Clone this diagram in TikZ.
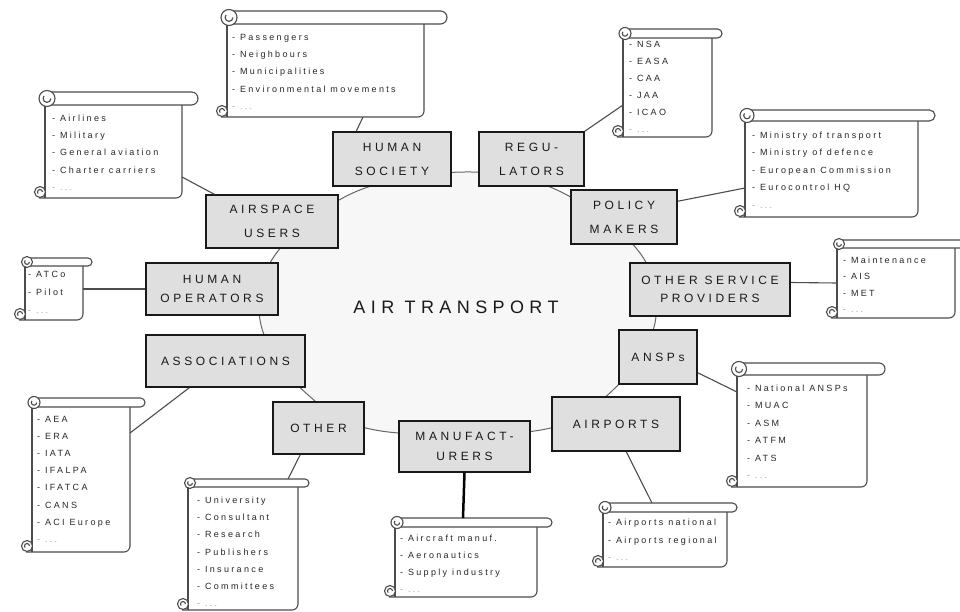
\documentclass[tikz,border=0pt]{standalone}
\usepackage{fontspec}
\setmainfont{Liberation Sans}
\newfontfamily\itemfont[LetterSpace=26]{Liberation Sans}
\newfontfamily\boxfont[LetterSpace=30]{Liberation Sans}
\usetikzlibrary{calc}

\tikzset{
 catbox/.style={draw=black!90, line width=1.5pt, fill=gray!25, inner sep=0pt, align=center, text=black!90, font={\boxfont\fontsize{12}{24}\selectfont}},
 scrollbody/.style={inner sep=0pt, outer sep=0pt},
 scrollline/.style={draw=black!70, line width=1.1pt},
 itemtext/.style={inner sep=0pt, text=black!85, font={\itemfont\fontsize{9}{10}\selectfont}},
 conn/.style={draw=black!70, line width=1.1pt},
 ring/.style={draw=black!60, line width=1pt, fill=black!3},
}

\newcommand\scrollbox[5]{%
 \node[scrollbody, anchor=north west, minimum width={(#4-#2)*1pt}, minimum height={(#5-#3)*1pt}] (#1) at (#2,#3) {};}

\newcommand\scrolldeco[3]{%
 \draw[scrollline] (#1.north west) -- (#1.south west);
 \draw[scrollline, rounded corners=6pt] ([xshift=-6pt]#1.south west) -- (#1.south east) -- (#1.north east);
 \draw[scrollline, fill=white, rounded corners=#2*0.5pt] ([xshift=-1pt]#1.north west) rectangle ([xshift=#3pt, yshift=#2pt]#1.north east);
 \draw[scrollline, fill=white] ([xshift=2pt, yshift=#2*0.5pt]#1.north west) circle [radius=#2*0.5pt+1.5pt];
 \draw[scrollline] ([xshift=2pt+#2*0.3pt, yshift=#2*0.5pt]#1.north west) arc [start angle=0, end angle=-220, radius=#2*0.3pt];
 \draw[scrollline, fill=white] ([xshift=-5pt, yshift=6pt]#1.south west) circle [radius=5.5pt];
 \draw[scrollline] ([xshift=-2.5pt, yshift=6pt]#1.south west) arc [start angle=0, end angle=220, radius=2.5pt];
}

\newcommand\scrollitems[5]{%
 \foreach \t [count=\i] in {#5} {
  \node[itemtext, anchor=base west] (#1-\i) at (#2,{#3+#4*(\i-1)}) {\t};
 }}

\begin{document}
\begin{tikzpicture}[x=1pt,y=-1pt]
\useasboundingbox (0,0) rectangle (960,612);

% ring
\draw[ring] plot[smooth cycle, tension=0.6] coordinates {(465,172) (557,190) (640,253) (655,323) (613,390) (541,430) (381,431) (307,394) (261,325) (275,255) (355,192)};

% category boxes
\node[catbox, minimum width=118pt, minimum height=54pt] (hs) at (392,159) {HUMAN\\SOCIETY};
\node[catbox, minimum width=105pt, minimum height=54pt] (reg) at (531.5,159) {REGU-\\LATORS};
\node[catbox, minimum width=132pt, minimum height=53pt] (as) at (272,221.5) {AIRSPACE\\USERS};
\node[catbox, minimum width=106pt, minimum height=54pt] (pm) at (624,217) {POLICY\\MAKERS};
\node[catbox, minimum width=132pt, minimum height=52pt, font={\boxfont\fontsize{12}{19}\selectfont}] (ho) at (212,289) {HUMAN\\OPERATORS};
\node[catbox, minimum width=160pt, minimum height=53pt, font={\boxfont\fontsize{12}{18}\selectfont}] (osp) at (710,289.5) {OTHER SERVICE\\PROVIDERS};
\node[catbox, minimum width=159pt, minimum height=52pt] (assoc) at (225.5,361) {ASSOCIATIONS};
\node[catbox, minimum width=78pt, minimum height=54pt] (ansps) at (658,357) {ANSPs};
\node[catbox, minimum width=91pt, minimum height=52pt] (other) at (318.5,428) {OTHER};
\node[catbox, minimum width=131pt, minimum height=51pt, font={\boxfont\fontsize{12}{20}\selectfont}] (manuf) at (464.5,446.5) {MANUFACT-\\URERS};
\node[catbox, minimum width=128pt, minimum height=54pt] (airports) at (616,424) {AIRPORTS};

\node[font={\boxfont\fontsize{18}{20}\selectfont}, text=black!90] (title) at (456,307) {AIR TRANSPORT};

% scrolls
\scrollbox{s1}{227}{24}{424}{117}
\scrollbox{s2}{623}{38}{712}{137}
\scrollbox{s3}{745}{121}{918}{217}
\scrollbox{s4}{45}{105}{182}{198}
\scrollbox{s5}{25}{266}{83}{320}
\scrollbox{s6}{837}{248}{955}{318}
\scrollbox{s7}{32}{407}{130}{552}
\scrollbox{s8}{188}{487}{298}{610}
\scrollbox{s9}{395}{527}{537}{597}
\scrollbox{s10}{603}{512}{727}{567}
\scrollbox{s11}{737}{375}{867}{487}

\scrolldeco{s1}{13}{23}
\scrolldeco{s2}{9}{10}
\scrolldeco{s3}{11}{17}
\scrolldeco{s4}{13}{16}
\scrolldeco{s5}{8}{9}
\scrolldeco{s6}{8}{12}
\scrolldeco{s7}{9}{15}
\scrolldeco{s8}{8}{11}
\scrolldeco{s9}{9}{15}
\scrolldeco{s10}{9}{10}
\scrolldeco{s11}{12}{18}

\def\dots{{\color{black!40}- ...}}
\scrollitems{s1}{232}{40.5}{17.2}{- Passengers, - Neighbours, - Municipalities, - Environmental movements, \dots}
\scrollitems{s2}{629}{47.5}{17}{- NSA, - EASA, - CAA, - JAA, - ICAO, \dots}
\scrollitems{s3}{752}{138.5}{17.5}{- Ministry of transport, - Ministry of defence, - European Commission, - Eurocontrol HQ, \dots}
\scrollitems{s4}{52}{121.5}{17.25}{- Airlines, - Military, - General aviation, - Charter carriers, \dots}
\scrollitems{s5}{28}{277.5}{18}{- ATCo, - Pilot, \dots}
\scrollitems{s6}{843}{263.5}{16.3}{- Maintenance, - AIS, - MET, \dots}
\scrollitems{s7}{37}{422.5}{17.1}{- AEA, - ERA, - IATA, - IFALPA, - IFATCA, - CANS, - ACI Europe, \dots}
\scrollitems{s8}{197}{503.5}{17.2}{- University, - Consultant, - Research, - Publishers, - Insurance, - Committees, \dots}
\scrollitems{s9}{400}{541.5}{17}{- Aircraft manuf., - Aeronautics, - Supply industry, \dots}
\scrollitems{s10}{608}{525.5}{17.5}{- Airports national, - Airports regional, \dots}
\scrollitems{s11}{747}{391.5}{17.4}{- National ANSPs, - MUAC, - ASM, - ATFM, - ATS, \dots}

% connectors
\draw[conn] ([xshift=136pt]s1.south west) -- ([xshift=24pt]hs.north west);
\draw[conn] ([yshift=-67pt]s2.north west) -- (reg.north east);
\draw[conn] ([yshift=-67pt]s3.north west) -- ([yshift=-12pt]pm.north east);
\draw[conn] ([yshift=-72pt]s4.north east) -- ([xshift=9pt]as.north west);
\draw[conn] (ho.west) -- (s5.east |- ho.west);
\draw[conn] ([yshift=7pt]osp.east) -- (s6.west);
\draw[conn] ([xshift=44pt]assoc.south west) -- ([yshift=-26pt]s7.north east);
\draw[conn] ([xshift=28pt]other.south west) -- ([xshift=100pt, yshift=8pt]s8.north west);
\draw[conn, line width=2.5pt, draw=black] (manuf.south) -- ([xshift=68pt, yshift=9pt]s9.north west);
\draw[conn] ([xshift=75pt]airports.south west) -- ([xshift=49pt, yshift=9pt]s10.north west);
\draw[conn] ([yshift=12pt]ansps.south east) -- ([yshift=-17pt]s11.north west);
\end{tikzpicture}
\end{document}
